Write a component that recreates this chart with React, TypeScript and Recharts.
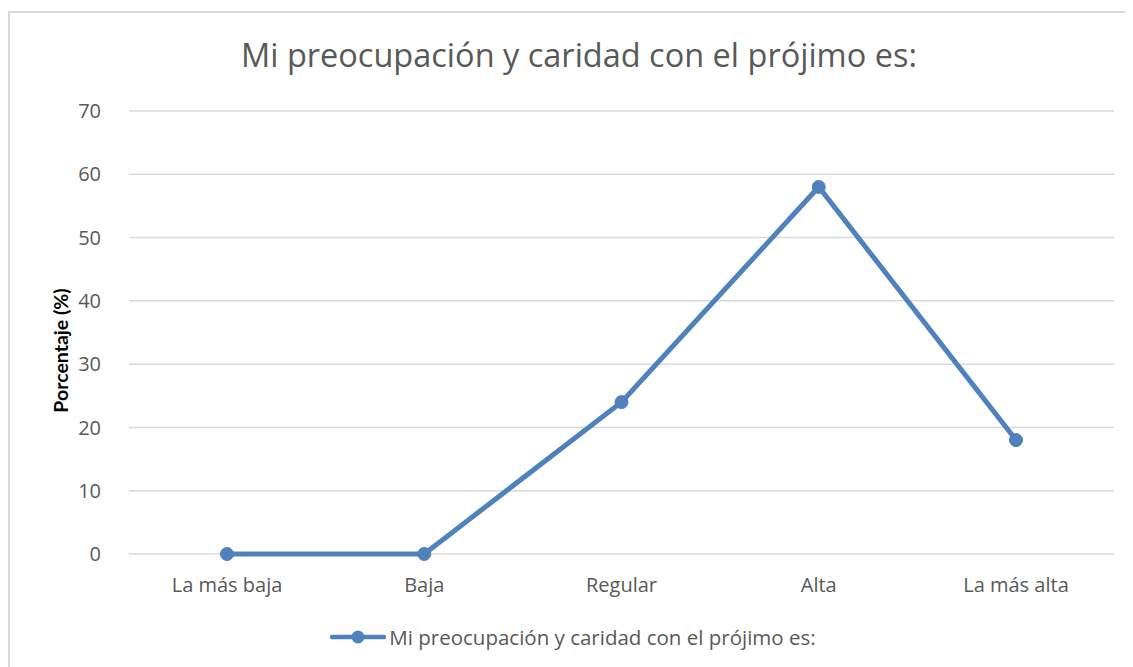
import { LineChart, Line, XAxis, YAxis, CartesianGrid, Legend } from "recharts"

const categories = ["La más baja", "Baja", "Regular", "Alta", "La más alta"]
const porcentajes = [0, 0, 24, 58, 18]
const yTicks = [0, 10, 20, 30, 40, 50, 60, 70]

const seriesName = "Mi preocupación y caridad con el prójimo es:"
const data = categories.map((name, i) => ({ name, valor: porcentajes[i] }))

const font = "'Open Sans', Lato, sans-serif"
const gray = "#595959"
const blue = "#4F81BD"

function LegendContent() {
  return (
    <div style={{ display: "flex", alignItems: "center", justifyContent: "center", fontFamily: font, fontSize: 20.5, color: gray, paddingLeft: 22 }}>
      <svg width={56} height={16} style={{ marginRight: 3 }}>
        <line x1={2} y1={8} x2={54} y2={8} stroke={blue} strokeWidth={4.5} strokeLinecap="round" />
        <circle cx={28} cy={8} r={6.5} fill={blue} />
      </svg>
      <span>{seriesName}</span>
    </div>
  )
}

export default function App() {
  return (
    <div style={{ position: "relative", marginTop: 3, width: 1140, height: 670, border: "2px solid #d9d9d9", background: "#fff", fontFamily: font }}>
      <div style={{ position: "absolute", left: 0, width: 1138, top: 19, textAlign: "center", fontSize: 32.5, color: gray, fontFamily: font }}>
        {seriesName}
      </div>
      <LineChart width={1125} height={660} data={data} margin={{ top: 98, right: 21, left: 0, bottom: 61 }}>
        <CartesianGrid horizontal vertical={false} stroke="#d9d9d9" strokeWidth={1.5} />
        <XAxis
          dataKey="name"
          padding={{ left: 98, right: 98 }}
          axisLine={false}
          tickLine={false}
          tick={{ fill: gray, fontSize: 20, fontFamily: font }}
          tickMargin={18}
        />
        <YAxis
          width={119}
          domain={[0, 70]}
          ticks={yTicks}
          axisLine={false}
          tickLine={false}
          tick={{ fill: gray, fontSize: 20, fontFamily: font }}
          tickMargin={22}
          label={{
            position: "insideLeft",
            content: ({ viewBox }: any) => {
              const cx = viewBox.x + 50
              const cy = viewBox.y + viewBox.height / 2 + 18
              return (
                <text x={cx} y={cy} transform={`rotate(-90, ${cx}, ${cy})`} textAnchor="middle" dominantBaseline="central" fill="#000" fontWeight="bold" fontSize={19.5} fontFamily="Lato, sans-serif">
                  Porcentaje (%)
                </text>
              )
            },
          }}
        />
        <Legend content={<LegendContent />} wrapperStyle={{ top: 610 }} />
        <Line
          type="linear"
          dataKey="valor"
          name={seriesName}
          stroke={blue}
          strokeWidth={5}
          dot={{ r: 6.5, fill: blue, stroke: blue, strokeWidth: 1 }}
          isAnimationActive={false}
        />
      </LineChart>
    </div>
  )
}
